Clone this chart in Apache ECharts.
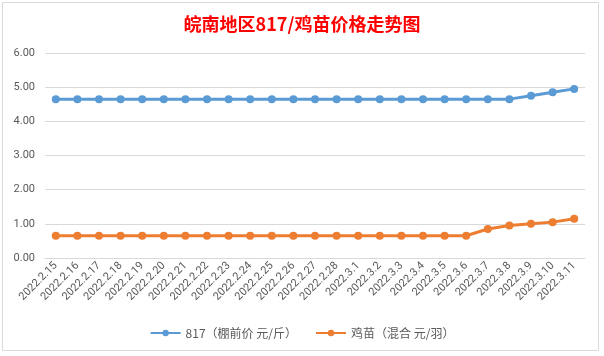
<!DOCTYPE html>
<html><head><meta charset="utf-8">
<script src="https://cdn.jsdelivr.net/npm/echarts@6/dist/echarts.min.js"></script>
<style>html,body{margin:0;padding:0;background:#fff;}#c{width:604px;height:356px;}</style>
</head><body><div id="c"></div>
<script>
const titleText = '皖南地区817/鸡苗价格走势图';
const categories = ['2022.2.15','2022.2.16','2022.2.17','2022.2.18','2022.2.19','2022.2.20','2022.2.21','2022.2.22','2022.2.23','2022.2.24','2022.2.25','2022.2.26','2022.2.27','2022.2.28','2022.3.1','2022.3.2','2022.3.3','2022.3.4','2022.3.5','2022.3.6','2022.3.7','2022.3.8','2022.3.9','2022.3.10','2022.3.11'];
const seriesNames = ['817（棚前价 元/斤）','鸡苗（混合 元/羽）'];
const price817 = [4.65,4.65,4.65,4.65,4.65,4.65,4.65,4.65,4.65,4.65,4.65,4.65,4.65,4.65,4.65,4.65,4.65,4.65,4.65,4.65,4.65,4.65,4.75,4.85,4.95];
const priceChick = [0.65,0.65,0.65,0.65,0.65,0.65,0.65,0.65,0.65,0.65,0.65,0.65,0.65,0.65,0.65,0.65,0.65,0.65,0.65,0.65,0.85,0.95,1.00,1.05,1.15];
const yTicks = [0,1,2,3,4,5,6];

const chart = echarts.init(document.getElementById('c'));
const txt = '#595959';
chart.setOption({
  animation: false,
  backgroundColor: '#fff',
  graphic: [{type:'rect', shape:{x:2.5,y:2.5,width:596,height:348}, style:{fill:'none', stroke:'#d9d9d9', lineWidth:1}, silent:true}],
  title: {text: titleText, left: 'center', top: 10, textStyle:{color:'#ff0000', fontSize:18, fontWeight:'bold', fontFamily:'"Noto Sans CJK SC", sans-serif'}},
  legend: {bottom: 12, left:'center', itemWidth: 30, itemHeight: 8, itemGap: 18, textStyle:{color:txt, fontSize:12, fontFamily:'"Noto Sans CJK SC", sans-serif'}, data: seriesNames},
  grid: {left: 45, right: 19, top: 53, bottom: 98},
  xAxis: {type:'category', data: categories, boundaryGap: true,
    axisLine:{lineStyle:{color:'#d9d9d9'}}, axisTick:{show:false},
    axisLabel:{interval:0, rotate:45, color:txt, fontSize:11, margin:6, fontFamily:'Roboto, "Noto Sans", sans-serif'}},
  yAxis: {type:'value', min: yTicks[0], max: yTicks[yTicks.length-1], interval: 1,
    axisLine:{show:false}, axisTick:{show:false},
    splitLine:{lineStyle:{color:'#d9d9d9'}},
    axisLabel:{color:txt, fontSize:11, margin:10, formatter: v => v.toFixed(2), fontFamily:'Roboto, "Noto Sans", sans-serif'}},
  series: [
    {name: seriesNames[0], type:'line', data: price817, symbol:'circle', symbolSize:8, itemStyle:{color:'#5b9bd5'}, lineStyle:{width:3, color:'#5b9bd5'}},
    {name: seriesNames[1], type:'line', data: priceChick, symbol:'circle', symbolSize:8, itemStyle:{color:'#ed7d31'}, lineStyle:{width:3, color:'#ed7d31'}}
  ]
});
</script></body></html>
